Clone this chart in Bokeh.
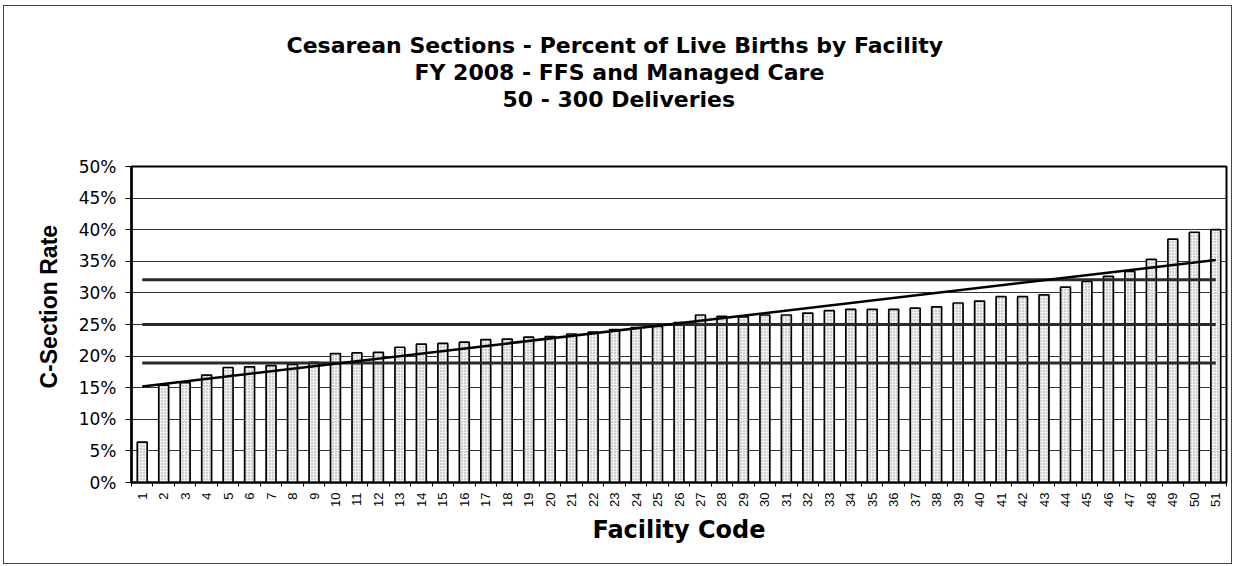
from bokeh.plotting import figure
from bokeh.models import Range1d, FixedTicker, NumeralTickFormatter, Title
from bokeh.embed import file_html
from bokeh.resources import INLINE
import math

# ---- data ----
facility_codes = list(range(1, 52))
csection_rates = [6.4, 15.4, 15.8, 17.0, 18.2, 18.3, 18.5, 18.7, 19.0, 20.4,
                  20.5, 20.6, 21.4, 21.9, 22.0, 22.2, 22.6, 22.7, 23.0, 23.1,
                  23.5, 23.8, 24.2, 24.5, 24.7, 25.3, 26.5, 26.3, 26.2, 26.5,
                  26.5, 26.8, 27.2, 27.4, 27.4, 27.4, 27.6, 27.8, 28.4, 28.7,
                  29.4, 29.4, 29.7, 30.9, 31.8, 32.6, 33.4, 35.3, 38.5, 39.6, 40.0]
reference_levels = [32.1, 25.0, 18.9]
trend_codes = [1, 51]
trend_rates = [15.2, 35.2]
title_lines = ["Cesarean Sections -  Percent of Live Births by Facility",
               "FY 2008 - FFS and Managed Care",
               "50 - 300 Deliveries"]
title_offsets = [155, 283, 371]   # left offset of each title line from the frame edge (px)
y_title = "C-Section Rate"
x_title = "Facility Code"

WIDE = "DejaVu Sans"
NARROW = "Liberation Sans"

p = figure(width=1229, height=559, output_backend="svg", toolbar_location=None,
           x_range=Range1d(0.5, 51.5), y_range=Range1d(0, 0.5),
           min_border_left=127, min_border_right=7, min_border_top=160,
           min_border_bottom=83, background_fill_color="white",
           border_fill_color="white")
p.styles = {"border": "1px solid #444", "margin-left": "3px", "margin-top": "5px"}

# grid
p.xgrid.grid_line_color = None
p.ygrid.ticker = FixedTicker(ticks=[i * 0.05 for i in range(11)])
p.ygrid.grid_line_color = "#333333"
p.ygrid.grid_line_width = 1

# bars
p.vbar(x=facility_codes, top=[r / 100 for r in csection_rates], width=0.46,
       fill_color="#f2f2f2", line_color="black", line_width=1.7,
       hatch_pattern="dot", hatch_color="#9a9a9a", hatch_scale=3, hatch_weight=0.6)

# reference lines spanning facilities
for lvl in reference_levels:
    p.line(x=[facility_codes[0], facility_codes[-1]], y=[lvl / 100, lvl / 100],
           line_color="#2a2a2a", line_width=3)

# trend line
p.line(x=trend_codes, y=[t / 100 for t in trend_rates], line_color="black", line_width=2.5)

# axes
xa = p.xaxis[0]
xa.ticker = FixedTicker(ticks=facility_codes,
                        minor_ticks=[c - 0.5 for c in facility_codes] + [facility_codes[-1] + 0.5])
xa.major_label_orientation = math.pi / 2
xa.major_label_text_font = NARROW
xa.major_label_text_font_size = "13px"
xa.major_label_text_color = "black"
xa.major_tick_out = 0
xa.major_tick_in = 0
xa.minor_tick_out = 4
xa.minor_tick_in = 0
xa.minor_tick_line_color = "black"
xa.axis_line_color = "black"
xa.axis_line_width = 2
xa.major_label_standoff = 6

ya = p.yaxis[0]
ya.ticker = FixedTicker(ticks=[i * 0.05 for i in range(11)])
ya.formatter = NumeralTickFormatter(format="0%")
ya.major_label_text_font = WIDE
ya.major_label_text_font_size = "17px"
ya.major_label_text_color = "black"
ya.major_tick_out = 6
ya.major_tick_in = 0
ya.minor_tick_line_color = None
ya.axis_line_color = "black"
ya.axis_line_width = 2.5
ya.major_label_standoff = 9

p.outline_line_color = "black"
p.outline_line_width = 2

# titles: a blank spacer next to the frame, then the lines from bottom to top
p.add_layout(Title(text=" ", text_font=WIDE, text_font_size="22px", standoff=28), "above")
for t, off in zip(reversed(title_lines), reversed(title_offsets)):
    p.add_layout(Title(text=t, align="left", offset=off,
                       text_font=WIDE, text_font_style="bold", text_font_size="22px",
                       text_color="black", standoff=0), "above")

p.add_layout(Title(text=y_title, align="left", offset=94,
                   text_font=NARROW, text_font_style="bold", text_font_size="23px",
                   text_color="black", standoff=28), "left")

p.add_layout(Title(text=x_title, align="center",
                   text_font=WIDE, text_font_style="bold", text_font_size="24px",
                   text_color="black", standoff=8), "below")

open("out.html", "w").write(file_html(p, INLINE))
